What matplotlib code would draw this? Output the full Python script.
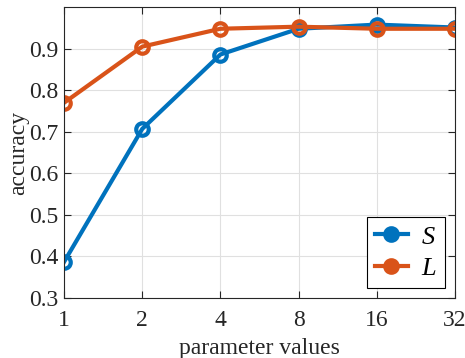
import numpy as np
import matplotlib.pyplot as plt

params = [1, 2, 4, 8, 16, 32]
acc_S = [0.387, 0.707, 0.886, 0.948, 0.958, 0.951]
acc_L = [0.770, 0.905, 0.948, 0.953, 0.948, 0.948]
yticks = [0.3, 0.4, 0.5, 0.6, 0.7, 0.8, 0.9]

plt.rcParams['font.family'] = ['Liberation Serif', 'DejaVu Serif']
plt.rcParams['mathtext.fontset'] = 'custom'
plt.rcParams['mathtext.it'] = 'Liberation Serif:italic'

fig = plt.figure(figsize=(4.65, 3.58), dpi=100)
ax = fig.add_axes([0.138, 0.168, 0.840, 0.812])

ax.plot(params, acc_S, color="#0072BD", lw=3, marker="o", ms=9, mfc="none", mew=3, label="$S$")
ax.plot(params, acc_L, color="#D95319", lw=3, marker="o", ms=9, mfc="none", mew=3, label="$L$")

ax.set_xscale("log", base=2)
ax.set_xlim(1, 32)
ax.set_xticks(params)
ax.set_xticklabels([str(p) for p in params])
ax.minorticks_off()
ax.set_ylim(0.3, 1.0)
ax.set_yticks(yticks)
ax.set_yticklabels([f"{v:.1f}" for v in yticks])

ax.grid(True, color="#e0e0e0", lw=0.8)
ax.tick_params(direction="in", top=True, right=True, labelsize=17, length=5, pad=4,
               color="#262626", labelcolor="#262626")
ax.tick_params(axis="x", pad=9)
for s in ax.spines.values():
    s.set_color("#262626")
    s.set_linewidth(0.8)

ax.set_xlabel("parameter values", fontsize=17, color="#262626", labelpad=5)
ax.set_ylabel("accuracy", fontsize=17, color="#262626", labelpad=0)

leg = ax.legend(loc="lower right", fontsize=19, fancybox=False, edgecolor="black",
                framealpha=1, handlelength=1.25, borderaxespad=0.38, handletextpad=0.5,
                borderpad=0.3, labelspacing=0.3)
leg.get_frame().set_linewidth(0.8)
for h in leg.legend_handles:
    h.set_markerfacecolor(h.get_color())

fig.savefig("out.png", dpi=100)
